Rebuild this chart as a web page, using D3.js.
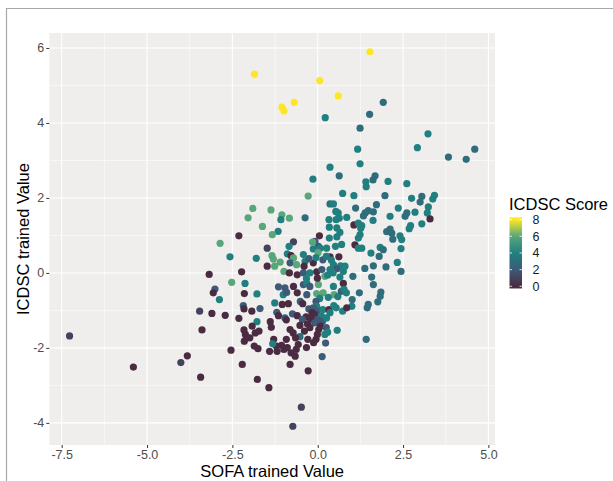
<!DOCTYPE html>
<html><head><meta charset="utf-8">
<script src="https://cdn.jsdelivr.net/npm/d3@7"></script>
<style>
html,body{margin:0;padding:0;background:#fff;}
svg{display:block;font-family:"Liberation Sans",Arial,Helvetica,sans-serif;}
</style></head><body>
<svg id="chart" width="613" height="481"></svg>
<script>
// SOFA trained value (x), ICDSC trained value (y) and ICDSC score (colour) per patient
const sofaValues = [
 -1.85,1.53,0.06,0.60,-0.69,-1.05,-0.99,0.22,1.92,1.52,1.24,1.17,2.92,3.23,3.83,4.35,4.60,
 0.36,0.63,-0.14,0.73,-0.28,0.36,0.46,0.53,0.60,0.85,-1.90,-1.37,-2.04,-1.05,-1.08,-0.83,-0.37,0.33,0.34,0.54,0.63,
 -1.62,-1.16,-1.33,0.56,0.65,0.56,0.34,-2.31,-2.86,-0.71,0.05,-0.08,0.02,0.07,-0.13,0.26,0.70,-0.84,-1.48,
 -2.57,-1.80,-1.34,-1.30,-0.89,-0.78,-0.71,-1.10,-1.26,-1.48,-0.81,-0.62,-0.37,-0.13,0.15,0.36,0.62,0.46,0.67,0.80,
 -0.99,-0.83,-0.60,-0.42,-0.23,-0.03,0.12,0.21,0.36,0.56,0.75,0.65,-3.18,-2.23,-3.01,-3.06,-2.52,-2.13,-1.15,-0.96,
 -0.71,-0.42,-0.32,-0.23,0.02,0.46,0.75,
 -0.15,0.01,-0.05,-0.26,0.25,0.40,0.52,-0.01,0.29,0.45,-0.40,-0.33,-0.42,
 -2.88,-2.15,-1.78,-1.01,-0.91,-0.60,-0.32,-0.03,0.16,0.48,0.59,0.69,0.77,0.84,0.31,0.06,-1.26,-1.04,-0.86,-0.51,-0.44,
 -0.96,-0.92,-3.46,-3.39,-3.10,-2.71,-2.18,-2.16,-1.93,-1.69,-1.78,-2.31,-1.39,-1.20,-1.15,-0.74,-0.60,
 -0.05,-0.03,-0.13,-0.26,-0.02,0.15,0.33,0.47,0.54,0.73,1.00,0.85,-0.17,-0.09,0.11,-0.34,-0.01,-0.20,0.14,0.26,0.36,
 -0.09,-0.45,-0.30,-0.52,-0.23,-0.39,0.08,0.03,0.25,0.29,0.21,-0.01,-0.05,-0.12,0.23,0.57,0.13,-0.52,
 -2.16,-2.12,-1.92,-1.83,-1.99,-2.15,-1.86,-1.75,-1.36,-1.29,-1.41,-1.21,-1.19,-1.06,-0.99,-0.89,-0.78,-0.66,-0.63,
 -0.92,-0.81,-0.72,-0.65,-0.57,-0.29,-0.33,-1.32,-1.72,
 -2.54,-2.21,-0.81,-0.28,-3.43,-1.77,-1.43,-0.48,-0.73,
 -7.27,-5.40,-4.01,-3.82,
 1.24,1.68,1.62,1.41,1.42,2.06,2.61,1.06,1.97,2.75,3.05,3.00,3.42,3.37,1.72,1.11,2.36,3.24,3.21,2.85,1.63,1.48,1.39,1.34,
 2.61,2.56,2.12,1.62,3.29,1.06,1.19,1.29,1.26,2.72,2.68,3.05,2.12,2.02,2.17,1.24,1.19,2.41,2.46,2.20,1.09,1.19,1.29,
 1.83,1.92,2.44,1.56,1.80,2.33,1.63,2.00,1.38,2.44,1.03,1.58,1.63,1.22,1.85,1.83,
 1.01,1.76,1.48,1.45,1.42
];
const icdscValues = [
 5.30,5.90,5.13,4.72,4.55,4.42,4.32,4.14,4.55,4.23,3.86,3.30,3.34,3.71,3.09,3.03,3.30,
 2.82,2.59,2.50,2.12,2.05,1.84,1.84,1.64,1.60,1.48,1.72,1.68,1.47,1.55,1.42,1.46,1.47,1.42,1.22,1.42,1.46,
 1.24,1.11,1.02,1.20,1.08,0.96,0.93,0.99,0.79,0.83,0.99,0.84,0.71,0.66,0.64,0.66,0.76,0.71,0.66,
 0.43,0.39,0.46,0.37,0.51,0.46,0.40,0.29,0.18,0.18,0.27,0.22,0.31,0.27,0.35,0.43,0.43,0.22,0.19,0.18,
 0.04,0.00,-0.05,0.00,0.00,0.03,0.09,-0.09,0.09,0.11,0.04,-0.11,-0.04,0.03,-0.43,-0.53,-0.25,-0.28,-0.37,-0.40,
 -0.36,-0.31,-0.27,-0.36,-0.31,-0.36,-0.28,
 0.82,0.54,0.41,0.38,0.44,0.34,0.71,-0.14,-0.06,0.00,0.18,-0.15,0.49,
 -0.71,-0.55,-0.56,-0.58,-0.52,-0.53,-0.58,-0.55,-0.53,-0.58,-0.63,-0.49,-0.44,-0.53,-0.65,-0.68,-0.80,-0.84,-0.82,-0.76,-0.82,
 -1.20,-1.25,-1.02,-1.52,-1.08,-1.13,-0.87,-0.96,-1.02,-0.95,-1.30,-1.21,-1.30,-1.05,-1.14,-1.09,-1.14,
 -0.76,-0.89,-0.93,-0.96,-1.02,-0.98,-0.98,-0.87,-0.93,-1.02,-0.89,-0.93,-1.06,-1.11,-1.15,-1.17,-1.24,-1.22,-1.29,-1.20,-1.06,
 -1.33,-1.24,-1.36,-1.40,-1.46,-1.55,-1.42,-1.51,-1.46,-1.58,-1.64,-1.64,-1.77,-1.86,-1.87,-1.53,-2.23,-1.70,
 -1.52,-1.64,-1.42,-1.60,-1.73,-1.82,-1.95,-2.02,-1.45,-1.77,-2.09,-1.95,-2.09,-1.93,-2.04,-1.99,-2.13,-2.22,-2.04,
 -1.77,-1.51,-1.60,-1.73,-1.91,-1.77,-1.99,-1.89,-1.55,
 -2.06,-2.44,-2.44,-2.61,-2.78,-2.84,-3.06,-3.58,-4.09,
 -1.68,-2.51,-2.39,-2.21,
 2.91,2.59,2.48,2.43,2.30,2.44,2.38,2.06,2.06,1.99,2.04,1.89,2.07,1.97,1.82,1.73,1.73,1.76,1.60,1.62,1.63,1.66,1.60,1.52,
 1.60,1.51,1.51,1.40,1.44,1.28,1.33,1.26,1.19,1.26,1.18,1.31,1.17,1.10,1.06,1.02,0.93,0.99,0.89,0.90,0.75,0.66,0.66,
 0.68,0.62,0.65,0.53,0.44,0.28,0.19,0.16,0.12,0.04,-0.09,-0.11,-0.31,-0.53,-0.51,-0.62,
 -0.71,-0.77,-0.84,-0.93,-1.77
];
const icdscScores = [
 8,8,8,8,8,8,8,4,3,3,3,4,4,4,3,3,3,
 4,3,4,4,6,3,4,4,4,4,6,6,6,6,4,6,3,4,4,4,4,
 6,4,6,4,4,4,4,0,6,1,0,2,2,4,4,4,4,4,1,
 4,4,6,6,4,0,6,6,6,0,2,6,4,0,2,0,0,4,4,4,
 6,0,0,2,4,0,2,6,4,2,4,4,0,0,2,0,6,4,2,2,
 0,2,4,2,6,4,0,
 6,6,4,2,4,4,4,0,4,4,0,4,4,
 4,0,4,4,2,0,2,6,6,6,4,2,4,4,4,4,4,0,0,2,0,
 2,0,1,0,0,0,2,0,0,2,4,0,0,2,0,2,0,
 2,4,2,2,2,4,0,4,4,4,4,0,0,0,4,0,2,0,2,4,4,
 2,2,0,0,0,0,0,0,2,4,4,0,0,0,2,4,2,3,
 0,0,0,0,0,0,0,0,0,0,0,0,0,0,0,0,0,0,0,
 0,0,0,0,0,0,0,4,0,
 0,0,0,0,0,0,0,1,1,
 1,0,1,0,
 4,3,3,4,4,4,4,4,3,4,3,3,4,4,3,3,4,4,4,4,3,3,3,3,
 3,3,4,4,0,0,4,4,4,4,4,4,3,3,3,4,4,4,4,3,0,4,4,
 4,3,4,4,3,4,3,3,3,3,3,3,3,3,3,3,
 3,3,3,3,3
];
const xTicks = [-7.5, -5, -2.5, 0, 2.5, 5];
const yTicks = [-4, -2, 0, 2, 4, 6];
const legendTicks = [0, 2, 4, 6, 8];
const legendColors = ["#4a2b41", "#3d5a78", "#21807f", "#58a67a", "#fde725"];

const svg = d3.select("#chart");
const panel = {left: 49.3, right: 495, top: 33, bottom: 445};

// ggplot-style 5% expansion of the data range
const expand = ext => { const p = (ext[1] - ext[0]) * 0.05; return [ext[0] - p, ext[1] + p]; };
const x = d3.scaleLinear().domain(expand(d3.extent(sofaValues))).range([panel.left, panel.right]);
const y = d3.scaleLinear().domain(expand(d3.extent(icdscValues))).range([panel.bottom, panel.top]);
const color = d3.scaleLinear().domain(legendTicks).range(legendColors).interpolate(d3.interpolateRgb);

// figure frame
svg.append("path").attr("d", "M6.5,481V8.5H613").attr("fill", "none").attr("stroke", "#a8a8a8").attr("stroke-width", 1.2);

// panel background and grid
svg.append("rect").attr("x", panel.left).attr("y", panel.top)
  .attr("width", panel.right - panel.left).attr("height", panel.bottom - panel.top).attr("fill", "#efeeed");
const mids = t => t.slice(1).map((v, i) => (v + t[i]) / 2);
const grid = svg.append("g");
grid.selectAll(".xm").data(mids(xTicks)).join("line")
  .attr("x1", d => x(d)).attr("x2", d => x(d)).attr("y1", panel.top).attr("y2", panel.bottom)
  .attr("stroke", "#fff").attr("stroke-width", 0.55);
grid.selectAll(".ym").data(mids(yTicks)).join("line")
  .attr("y1", d => y(d)).attr("y2", d => y(d)).attr("x1", panel.left).attr("x2", panel.right)
  .attr("stroke", "#fff").attr("stroke-width", 0.55);
grid.selectAll(".xM").data(xTicks).join("line")
  .attr("x1", d => x(d)).attr("x2", d => x(d)).attr("y1", panel.top).attr("y2", panel.bottom)
  .attr("stroke", "#fff").attr("stroke-width", 1.1);
grid.selectAll(".yM").data(yTicks).join("line")
  .attr("y1", d => y(d)).attr("y2", d => y(d)).attr("x1", panel.left).attr("x2", panel.right)
  .attr("stroke", "#fff").attr("stroke-width", 1.1);

// points
svg.append("g").selectAll("circle").data(sofaValues).join("circle")
  .attr("cx", d => x(d)).attr("cy", (d, i) => y(icdscValues[i])).attr("r", 3.6)
  .attr("fill", (d, i) => color(icdscScores[i]));

// axes
const xAxis = svg.append("g").attr("transform", `translate(0,${panel.bottom})`)
  .call(d3.axisBottom(x).tickValues(xTicks).tickSize(3).tickPadding(2).tickFormat(d => d.toFixed(1)));
const yAxis = svg.append("g").attr("transform", `translate(${panel.left},0)`)
  .call(d3.axisLeft(y).tickValues(yTicks).tickSize(3).tickPadding(2).tickFormat(d => String(d)));
[xAxis, yAxis].forEach(a => {
  a.select(".domain").remove();
  a.selectAll(".tick line").attr("stroke", "#333").attr("stroke-width", 1);
  a.selectAll(".tick text").attr("fill", "#4d4d4d").style("font-size", "12.5px")
    .style("font-family", "'Liberation Sans', Arial, sans-serif");
});

svg.append("text").attr("x", (panel.left + panel.right) / 2).attr("y", 476.5)
  .attr("text-anchor", "middle").style("font-size", "16.5px").attr("fill", "#000").text("SOFA trained Value");
svg.append("text").attr("transform", `translate(29,${(panel.top + panel.bottom) / 2}) rotate(-90)`)
  .attr("text-anchor", "middle").style("font-size", "16.5px").attr("fill", "#000").text("ICDSC trained Value");

// colour bar legend
const lg = svg.append("g");
lg.append("text").attr("x", 509).attr("y", 209.5).style("font-size", "16.5px").attr("fill", "#000").text("ICDSC Score");
const ly = d3.scaleLinear().domain([0, 8]).range([286.3, 219.6]);
const barTop = ly(8.26), barBottom = ly(-0.26), barX = 509.5, barW = 12.5;
const defs = svg.append("defs");
const grad = defs.append("linearGradient").attr("id", "cbar").attr("x1", 0).attr("x2", 0).attr("y1", 1).attr("y2", 0);
d3.range(0, 8.01, 0.5).forEach(v => {
  grad.append("stop").attr("offset", (ly(v) - barBottom) / (barTop - barBottom)).attr("stop-color", color(v));
});
lg.append("rect").attr("x", barX).attr("y", barTop).attr("width", barW).attr("height", barBottom - barTop).attr("fill", "url(#cbar)");
lg.selectAll(".tl").data(legendTicks).join("path")
  .attr("d", d => `M${barX},${ly(d)}h2.5M${barX + barW - 2.5},${ly(d)}h2.5`)
  .attr("stroke", "#fff").attr("stroke-width", 0.8);
lg.selectAll(".lab").data(legendTicks).join("text")
  .attr("x", 532.5).attr("y", d => ly(d)).attr("dy", "0.35em")
  .style("font-size", "12.5px").attr("fill", "#1a1a1a").text(d => d);
</script>
</body></html>
